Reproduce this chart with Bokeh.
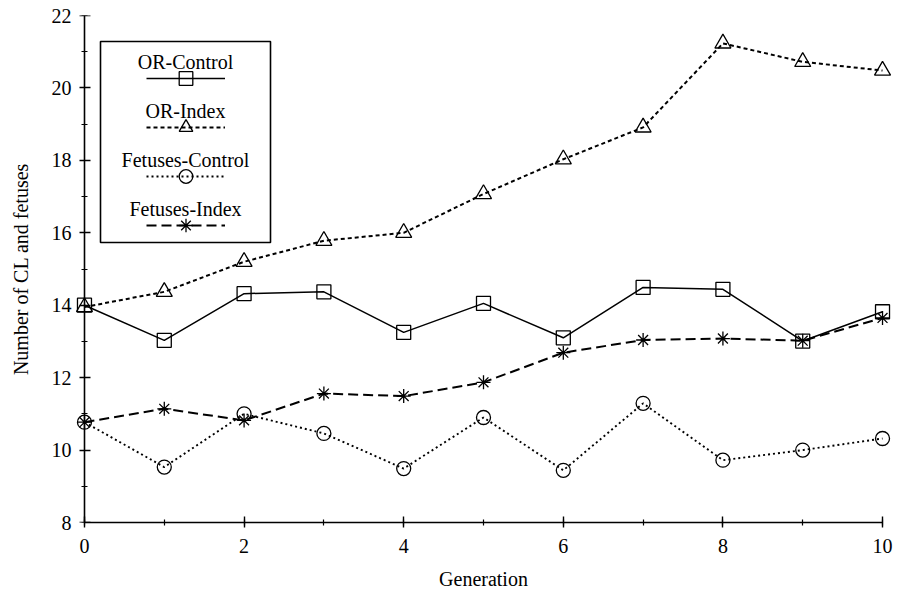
from bokeh.plotting import figure
from bokeh.models import (Range1d, SingleIntervalTicker, Legend, LegendItem,
                          BoxAnnotation, Label, LinearAxis, CustomJSTickFormatter)
from bokeh.embed import file_html
from bokeh.resources import INLINE

# ---------------- data ----------------
generation = [0, 1, 2, 3, 4, 5, 6, 7, 8, 9, 10]
or_control = [14.0, 13.03, 14.32, 14.37, 13.25, 14.05, 13.10, 14.49, 14.44, 13.01, 13.82]
or_index = [13.95, 14.37, 15.2, 15.78, 16.0, 17.07, 18.03, 18.91, 21.23, 20.72, 20.48]
fetuses_control = [10.77, 9.53, 11.0, 10.46, 9.49, 10.9, 9.44, 11.29, 9.72, 10.0, 10.32]
fetuses_index = [10.77, 11.14, 10.82, 11.56, 11.49, 11.87, 12.69, 13.04, 13.08, 13.02, 13.65]
series_names = ["OR-Control", "OR-Index", "Fetuses-Control", "Fetuses-Index"]
x_title = "Generation"
y_title = "Number of CL and fetuses"

FONT = "Liberation Serif"
FS = "20px"
W, H = 904, 597
X_PAD = 0.125
MB_TOP, MB_BOTTOM, MB_LEFT, MB_RIGHT = 15, 75, 74, 12
FRAME_H = H - MB_TOP - MB_BOTTOM
FRAME_LEFT_PAGE, FRAME_TOP_PAGE = MB_LEFT, MB_TOP

p = figure(width=W, height=H, output_backend="svg", toolbar_location=None,
           x_range=Range1d(0 - X_PAD, 10 + X_PAD), y_range=Range1d(8, 22),
           min_border_top=MB_TOP, min_border_bottom=MB_BOTTOM,
           min_border_left=MB_LEFT, min_border_right=MB_RIGHT)
p.outline_line_color = None
p.grid.visible = False
p.background_fill_color = "white"
p.border_fill_color = "white"


def style_ticks(ax, out_len, in_len):
    ax.axis_line_width = 1.6
    ax.axis_line_color = "black"
    ax.major_tick_line_color = "black"
    ax.minor_tick_line_color = "black"
    ax.major_tick_line_width = 1.4
    ax.minor_tick_line_width = 1.2
    ax.major_tick_out = out_len
    ax.major_tick_in = in_len
    ax.minor_tick_out = 3
    ax.minor_tick_in = 3


def style_text(ax):
    ax.major_label_text_font = FONT
    ax.major_label_text_font_size = FS
    ax.major_label_text_color = "black"
    ax.axis_label_text_font = FONT
    ax.axis_label_text_font_size = FS
    ax.axis_label_text_font_style = "normal"
    ax.axis_label_text_color = "black"


# x axis (bottom), line limited to 0..10
p.xaxis.ticker = SingleIntervalTicker(interval=2, num_minor_ticks=2)
p.xaxis.bounds = (0, 10)
style_ticks(p.xaxis[0], 5, 6)
style_text(p.xaxis[0])
p.xaxis.axis_label = x_title
p.xaxis.major_label_standoff = 11
p.xaxis.axis_label_standoff = 12

# y axis labels/title only (sits at frame left edge)
ylab = p.yaxis[0]
ylab.ticker = SingleIntervalTicker(interval=2, num_minor_ticks=2)
ylab.axis_line_color = None
ylab.major_tick_line_color = None
ylab.minor_tick_line_color = None
ylab.major_tick_out = 0
ylab.major_tick_in = 0
ylab.minor_tick_out = 0
ylab.minor_tick_in = 0
style_text(ylab)
ylab.axis_label = y_title
ylab.major_label_standoff = 3
ylab.axis_label_standoff = 17

# y axis line and ticks placed at x = 0
yline = LinearAxis(fixed_location=0,
                   ticker=SingleIntervalTicker(interval=2, num_minor_ticks=2),
                   formatter=CustomJSTickFormatter(code="return ''"),
                   major_label_standoff=0)
style_ticks(yline, 6, 5)
p.add_layout(yline, "right")

styles = [
    dict(dash="solid", marker="square", size=14, lw=1.5),
    dict(dash="4 3", marker="triangle", size=16, lw=2.0),
    dict(dash="2 3", marker="circle", size=14, lw=1.9),
    dict(dash="10 5", marker="asterisk", size=14, lw=2.0),
]
values = [or_control, or_index, fetuses_control, fetuses_index]

items = []
for name, ys, st in zip(series_names, values, styles):
    lr = p.line(generation, ys, line_color="black", line_width=st["lw"],
                line_dash=st["dash"])
    sr = p.scatter(generation, ys, marker=st["marker"], size=st["size"],
                   line_color="black", line_width=1.3, fill_color=None)
    items.append(LegendItem(label=" ", renderers=[lr, sr]))

# ---------------- legend (text above sample), page pixel layout ----------------
BOX_L, BOX_R, BOX_T, BOX_B = 100, 270, 41, 242
SAMPLE0 = 77.7          # centre of first sample line
GLYPH_W, GLYPH_H, SPACING = 79, 34, 15
TEXT_OFF = 16


def fx(px):  # page x -> frame screen x
    return px - FRAME_LEFT_PAGE


def fy(py):  # page y -> frame screen y (upwards from frame bottom)
    return FRAME_H - (py - FRAME_TOP_PAGE)


box = BoxAnnotation(left=fx(BOX_L), right=fx(BOX_R), top=fy(BOX_T), bottom=fy(BOX_B),
                    left_units="screen", right_units="screen",
                    top_units="screen", bottom_units="screen",
                    fill_color="white", fill_alpha=1.0,
                    line_color="black", line_alpha=1.0, line_width=1.6,
                    level="overlay")
p.add_layout(box)

cx = (BOX_L + BOX_R) / 2
legend_h = 4 * GLYPH_H + 3 * SPACING
legend_top = SAMPLE0 - GLYPH_H / 2
legend = Legend(items=items,
                location=(fx(cx - GLYPH_W / 2), fy(legend_top + legend_h)),
                glyph_width=GLYPH_W, glyph_height=GLYPH_H,
                spacing=SPACING, padding=0, margin=0,
                label_width=0, label_standoff=0, label_height=GLYPH_H,
                label_text_font_size="1px",
                border_line_color=None, background_fill_alpha=0.0,
                level="overlay")
p.add_layout(legend)

for i, name in enumerate(series_names):
    cy = SAMPLE0 + i * (GLYPH_H + SPACING) - TEXT_OFF
    p.add_layout(Label(x=fx(cx), y=fy(cy),
                       x_units="screen", y_units="screen", text=name,
                       text_align="center", text_baseline="middle",
                       text_font=FONT, text_font_size=FS,
                       text_color="black", level="overlay"))

open("out.html", "w").write(file_html(p, INLINE))
